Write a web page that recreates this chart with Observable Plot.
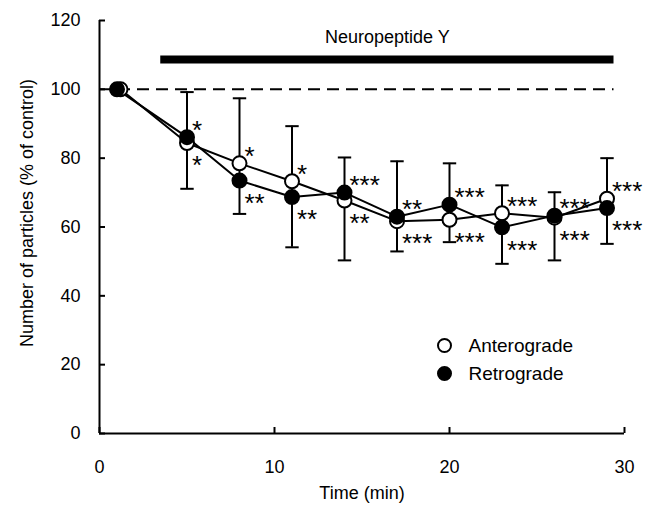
<!DOCTYPE html>
<html><head><meta charset="utf-8">
<script src="https://cdn.jsdelivr.net/npm/d3@7"></script>
<script src="https://cdn.jsdelivr.net/npm/@observablehq/plot@0.6"></script>
<style>body{margin:0;background:#fff} #chart{width:651px;height:507px}</style>
</head><body><div id="chart"></div>
<script>
// ---- data ----
const time = [1, 5, 8, 11, 14, 17, 20, 23, 26, 29];
const anteroTime = [1.2, 5, 8, 11, 14, 17, 20, 23, 26, 29];
const antero = [100, 84.4, 78.5, 73.3, 67.7, 61.7, 62.1, 64.0, 62.7, 68.2];
const retro  = [100, 86.1, 73.5, 68.7, 70.0, 63.0, 66.5, 59.9, 63.3, 65.5];
const anteroStars = ["", "*", "*", "*", "**", "***", "***", "***", "***", "***"];
const retroStars  = ["", "*", "**", "**", "***", "**", "***", "***", "***", "***"];
const errTime = [5, 8, 11, 14, 17, 20, 23, 26, 29];
const errHigh = [99.2, 97.4, 89.3, 80.2, 79.1, 78.5, 72.1, 70.1, 80.0];
const errLow  = [71.1, 63.8, 54.1, 50.3, 52.9, 55.6, 49.3, 50.3, 55.1];
const xTicks = [0, 10, 20, 30];
const yTicks = [0, 20, 40, 60, 80, 100, 120];
const controlLevel = [100];
const nyLabel = ["Neuropeptide Y"];
const nyStart = 3.5, nyEnd = 29.4, nyLevel = 108.7;
const legendLabels = ["Anterograde", "Retrograde"];
const xTitle = ["Time (min)"];
const yTitle = ["Number of particles (% of control)"];

// ---- layout ----
const W = 651, H = 507, mL = 99, mR = 27, mT = 20, mB = 74;
const innerW = W - mL - mR, innerH = H - mT - mB;
const font = "'Liberation Sans', Arial, sans-serif";

const anteroRows = time.map((t, i) => ({t: anteroTime[i], v: antero[i], star: anteroStars[i], up: antero[i] >= retro[i]}));
const retroRows  = time.map((t, i) => ({t, v: retro[i], star: retroStars[i], up: retro[i] > antero[i]}));
const starRows = anteroRows.concat(retroRows).filter(d => d.star);
const errRows = errTime.map((t, i) => ({t, hi: errHigh[i], lo: errLow[i]}));
const capSymbol = {draw(ctx, size) { const r = Math.sqrt(size / Math.PI); ctx.moveTo(-r, 0); ctx.lineTo(r, 0); }};
const k = {stroke: "#000", strokeWidth: 2};

const chart = Plot.plot({
  width: W, height: H,
  marginLeft: mL, marginRight: mR, marginTop: mT, marginBottom: mB,
  style: {fontFamily: font, fontSize: "18px", color: "#000", background: "#fff"},
  x: {domain: [0, 30]},
  y: {domain: [0, 120]},
  marks: [
    Plot.axisX({ticks: xTicks, tickSize: 0, tickPadding: 27, label: null, fontSize: 18}),
    Plot.axisY({ticks: yTicks, tickSize: 0, tickPadding: 19, label: null, fontSize: 18}),
    Plot.tickX(xTicks, {x: d => d, insetTop: innerH - 6, ...k}),
    Plot.tickY(yTicks, {y: d => d, insetRight: innerW - 6, ...k}),
    Plot.ruleX([0], {x: d => d, ...k}),
    Plot.ruleY([0], {y: d => d, ...k}),
    Plot.ruleY(controlLevel, {y: d => d, x1: 0, x2: nyEnd, stroke: "#000", strokeWidth: 2, strokeDasharray: "12,7"}),
    Plot.ruleY([nyLevel], {y: d => d, x1: nyStart, x2: nyEnd, stroke: "#000", strokeWidth: 8}),
    Plot.text(nyLabel, {x: (nyStart + nyEnd) / 2, y: nyLevel, text: d => d, dy: -22, fontSize: 18, fill: "#000"}),
    Plot.ruleX(errRows, {x: "t", y1: "lo", y2: "hi", ...k}),
    Plot.dot(errRows, {x: "t", y: "hi", symbol: capSymbol, r: 6.7, fill: "none", ...k}),
    Plot.dot(errRows, {x: "t", y: "lo", symbol: capSymbol, r: 6.7, fill: "none", ...k}),
    Plot.line(anteroRows, {x: "t", y: "v", ...k}),
    Plot.line(retroRows, {x: "t", y: "v", ...k}),
    Plot.dot(anteroRows, {x: "t", y: "v", r: 7, fill: "#fff", ...k}),
    Plot.dot(retroRows, {x: "t", y: "v", r: 7, fill: "#000", ...k}),
    Plot.text(starRows.filter(d => d.up), {x: "t", y: "v", text: "star", textAnchor: "start", dx: 5, dy: -7, fontSize: 26, fill: "#000"}),
    Plot.text(starRows.filter(d => !d.up), {x: "t", y: "v", text: "star", textAnchor: "start", dx: 5, dy: 23, fontSize: 26, fill: "#000"}),
    // legend
    Plot.dot([legendLabels[0]], {frameAnchor: "bottom-right", dx: -180, dy: -88, r: 6.5, fill: "#fff", ...k}),
    Plot.dot([legendLabels[1]], {frameAnchor: "bottom-right", dx: -180, dy: -60, r: 6.5, fill: "#000", ...k}),
    Plot.text([legendLabels[0]], {frameAnchor: "bottom-right", text: d => d, textAnchor: "start", lineAnchor: "middle", dx: -156, dy: -88, fontSize: 19, fill: "#000"}),
    Plot.text([legendLabels[1]], {frameAnchor: "bottom-right", text: d => d, textAnchor: "start", lineAnchor: "middle", dx: -156, dy: -60, fontSize: 19, fill: "#000"}),
    // axis titles
    Plot.text(xTitle, {frameAnchor: "bottom", text: d => d, textAnchor: "middle", lineAnchor: "middle", dy: 60, fontSize: 18, fill: "#000"}),
    Plot.text(yTitle, {frameAnchor: "left", text: d => d, textAnchor: "middle", lineAnchor: "middle", rotate: -90, dx: -72, dy: -14, fontSize: 18, fill: "#000"})
  ]
});
document.getElementById("chart").appendChild(chart);
</script></body></html>
